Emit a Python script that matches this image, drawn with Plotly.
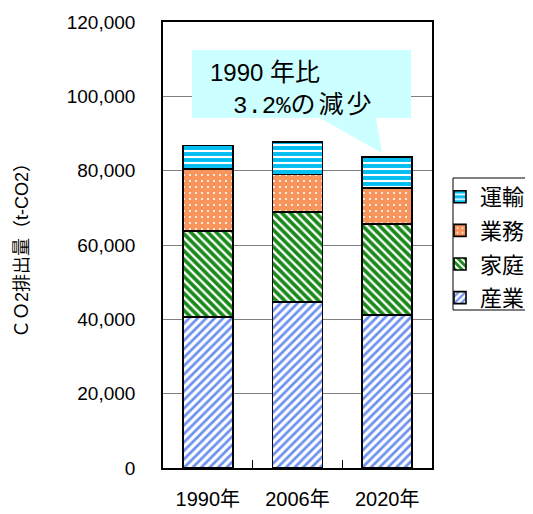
import plotly.graph_objects as go

# ---- data ----
categories = ["1990年", "2006年", "2020年"]
sangyo = [40700, 44700, 41200]   # 産業
katei = [23000, 24100, 24500]    # 家庭
gyomu = [16800, 10200, 9700]     # 業務
unyu = [6300, 8700, 8200]        # 運輸
series_names = ["産業", "家庭", "業務", "運輸"]
legend_ranks = [4, 3, 2, 1]
y_ticks = [0, 20000, 40000, 60000, 80000, 100000, 120000]
y_tick_text = ["0", "20,000", "40,000", "60,000", "80,000", "100,000", "120,000"]
callout_num1, callout_txt1 = "1990 ", "年比"
callout_num2, callout_txt2 = "3.2%", "の減少"
y_title = "ＣＯ2排出量（t-CO2）"

FONT = "Liberation Sans, Arial, Noto Sans CJK JP"
OFF = 8  # page body margin
W, H = 533 - OFF, 514 - OFF
L, R, T, B = 163 - OFF, 432 - OFF, 22 - OFF, 468 - OFF

def px(x):
    return (x - OFF - L) / (R - L)

def py(y):
    return (B - (y - OFF)) / (B - T)

styles = [
    dict(bg="#FFFFFF", fg="#6C90F0", shape="/", size=6, solidity=0.45),
    dict(bg="#178A17", fg="#FFFFFF", shape="\\", size=6, solidity=0.4),
    dict(bg="#F7955C", fg="#FFFFFF", shape=".", size=6, solidity=0.1),
    dict(bg="#00BDF2", fg="#FFFFFF", shape="-", size=6, solidity=0.35),
]
values = [sangyo, katei, gyomu, unyu]

fig = go.Figure()
for name, vals, st, rk in zip(series_names, values, styles, legend_ranks):
    fig.add_trace(go.Bar(
        x=categories, y=vals, name=name, legendgroup=name, legendrank=rk,
        marker=dict(color=st["bg"], line=dict(color="black", width=1.6),
                    pattern=dict(shape=st["shape"], fgcolor=st["fg"], bgcolor=st["bg"],
                                 size=st["size"], solidity=st["solidity"], fillmode="replace")),
    ))

# callout shape
x1, x2, y1, y2 = px(192), px(411), py(50), py(118)
tl, tr, tipx, tipy = px(320), px(376), px(382), py(153)
path = (f"M {x1},{y1} L {x2},{y1} L {x2},{y2} L {tr},{y2} L {tipx},{tipy} "
        f"L {tl},{y2} L {x1},{y2} Z")
fig.add_shape(type="path", path=path, xref="paper", yref="paper",
              fillcolor="#CCFFFF", line=dict(width=0), layer="above")

# legend border
fig.add_shape(type="rect", xref="paper", yref="paper",
              x0=px(453), x1=px(545), y0=py(178), y1=py(310),
              line=dict(color="black", width=1), fillcolor="white", layer="below")

NARROW = "font-family:'Liberation Sans Narrow','Arial Narrow','Liberation Sans';font-size:24px"
MONO = "font-family:'Liberation Mono','DejaVu Sans Mono';font-size:24px"
CJK1 = "font-family:'Noto Sans CJK JP';font-size:25px"
CJK2 = "font-family:'Noto Sans CJK JP';font-size:25px;letter-spacing:3px"
fig.add_annotation(x=px(208), y=py(70), xref="paper", yref="paper",
                   text=f"<span style=\"{NARROW}\">{callout_num1}</span><span style=\"{CJK1}\">{callout_txt1}</span>",
                   showarrow=False, xanchor="left", yanchor="middle",
                   font=dict(family=FONT, size=24, color="black"))
fig.add_annotation(x=px(231), y=py(102), xref="paper", yref="paper",
                   text=f"<span style=\"{MONO}\">{callout_num2}</span><span style=\"{CJK2}\">{callout_txt2}</span>",
                   showarrow=False, xanchor="left", yanchor="middle",
                   font=dict(family=FONT, size=24, color="black"))
fig.add_annotation(x=px(22), y=py(246), xref="paper", yref="paper", text=y_title,
                   showarrow=False, textangle=-90, xanchor="center", yanchor="middle",
                   font=dict(family=FONT, size=18, color="black"))

fig.update_layout(
    width=W, height=H,
    margin=dict(l=L, r=W - R, t=T, b=H - B, autoexpand=False),
    paper_bgcolor="white", plot_bgcolor="white",
    barmode="stack", bargap=0.44,
    font=dict(family=FONT, color="black"),
    legend=dict(x=px(440), xanchor="left", y=py(176), yanchor="top",
                traceorder="grouped", tracegroupgap=2,
                font=dict(family=FONT, size=22, color="black"),
                bgcolor="rgba(0,0,0,0)", borderwidth=0),
    xaxis=dict(showline=True, linecolor="black", linewidth=1.6, mirror=True,
               ticks="inside", tickson="boundaries", ticklen=8, tickcolor="black",
               tickfont=dict(family=FONT, size=20, color="black"),
               ticklabelstandoff=12),
    yaxis=dict(range=[0, 120000], tickvals=y_ticks, ticktext=y_tick_text,
               showline=True, linecolor="black", linewidth=1.6, mirror=True,
               showgrid=True, gridcolor="#808080", gridwidth=1,
               ticks="", tickfont=dict(family=FONT, size=19, color="black"),
               ticklabelstandoff=22, zeroline=False),
)

fig.write_html("out.html")
